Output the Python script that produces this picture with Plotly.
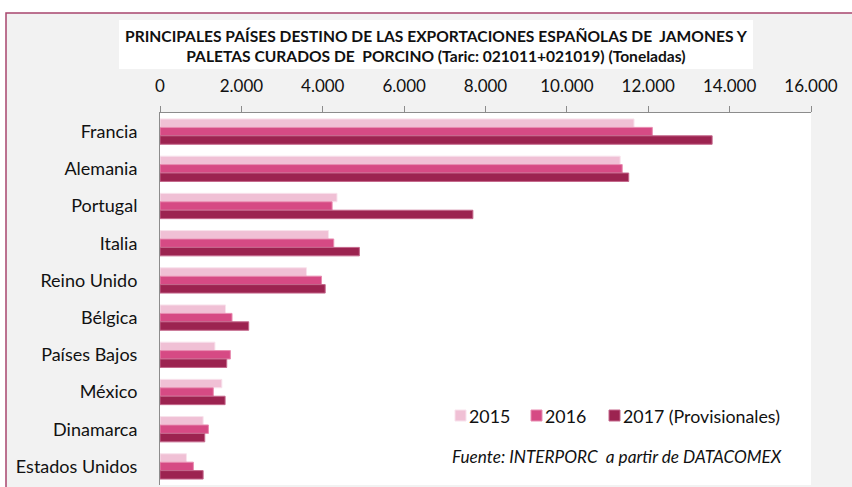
import plotly.graph_objects as go

# Destination countries, top to bottom
paises = ["Francia", "Alemania", "Portugal", "Italia", "Reino Unido",
          "Bélgica", "Países Bajos", "México", "Dinamarca", "Estados Unidos"]

# Exports in tonnes per year
t2015 = [11650, 11310, 4350, 4140, 3600, 1610, 1350, 1520, 1060, 650]
t2016 = [12100, 11360, 4230, 4270, 3970, 1770, 1730, 1310, 1190, 820]
t2017 = [13570, 11520, 7690, 4900, 4060, 2180, 1640, 1600, 1100, 1060]

series_names = ["2015", "2016", "2017 (Provisionales)"]
series_values = [t2015, t2016, t2017]
fill_colors = ["#f0c0d5", "#d64a84", "#9c2350"]
edge_colors = ["#f8e2ec", "#e88bb0", "#c4678b"]

tick_vals = [0, 2000, 4000, 6000, 8000, 10000, 12000, 14000, 16000]
tick_text = ["0", "2.000", "4.000", "6.000", "8.000", "10.000", "12.000", "14.000", "16.000"]

W, H = 852, 487
ML, MR, MT, MB = 160, 41, 113, 2
PW, PH = W - ML - MR, H - MT - MB

FONT = "Lato, Open Sans, sans-serif"


def px_x(px):
    return (px - ML) / PW


def px_y(py):
    return (H - MB - py) / PH


fig = go.Figure()
for name, vals, fc, ec in zip(series_names, series_values, fill_colors, edge_colors):
    fig.add_trace(go.Bar(
        y=paises, x=vals, name=name, orientation="h", showlegend=False,
        marker=dict(color=fc, line=dict(color=ec, width=1)),
    ))

shapes = [
    # outer chart frame
    dict(type="rect", xref="paper", yref="paper", layer="below",
         x0=px_x(6), x1=px_x(870), y0=px_y(500), y1=px_y(13),
         fillcolor="#f2f2f2", line=dict(color="#a8466d", width=1.5)),
    # white plot area
    dict(type="rect", xref="paper", yref="paper", layer="below",
         x0=0, x1=1, y0=0, y1=1, fillcolor="white", line=dict(width=0)),
    # white band behind the title
    dict(type="rect", xref="paper", yref="paper", layer="below",
         x0=px_x(119), x1=px_x(753), y0=px_y(69), y1=px_y(20),
         fillcolor="white", line=dict(width=0)),
]

annotations = [
    dict(xref="paper", yref="paper", x=px_x(436), y=px_y(45.5),
         xanchor="center", yanchor="middle", showarrow=False, align="center",
         text="<b>PRINCIPALES PAÍSES DESTINO DE LAS EXPORTACIONES ESPAÑOLAS DE  JAMONES Y"
              "<br>PALETAS CURADOS DE  PORCINO (Taric: 021011+021019) (Toneladas)</b>",
         font=dict(family=FONT, size=15.6, color="#111")),
    dict(xref="paper", yref="paper", x=px_x(617), y=px_y(456),
         xanchor="center", yanchor="middle", showarrow=False,
         text="<i>Fuente: INTERPORC  a partir de DATACOMEX</i>",
         font=dict(family=FONT, size=17.2, color="#111")),
]

# Legend: colour swatch followed by the series name
legend_left = [455, 531, 609]
for name, fc, ec, lx in zip(series_names, fill_colors, edge_colors, legend_left):
    shapes.append(dict(type="rect", xref="paper", yref="paper",
                       x0=px_x(lx), x1=px_x(lx + 11), y0=px_y(421), y1=px_y(410),
                       fillcolor=fc, line=dict(color=ec, width=1)))
    annotations.append(dict(xref="paper", yref="paper", x=px_x(lx + 12), y=px_y(415.5),
                            xanchor="left", yanchor="middle", showarrow=False,
                            text=name, font=dict(family=FONT, size=17.8, color="#111")))

fig.update_layout(
    width=W, height=H,
    margin=dict(l=ML, r=MR, t=MT, b=MB),
    paper_bgcolor="white",
    plot_bgcolor="rgba(0,0,0,0)",
    barmode="group",
    bargap=0.32,
    bargroupgap=0,
    shapes=shapes,
    annotations=annotations,
    showlegend=False,
    font=dict(family=FONT, size=15, color="#111"),
    xaxis=dict(side="top", range=[0, 16000], tickvals=tick_vals, ticktext=tick_text,
               showgrid=False, zeroline=False, showline=True, linecolor="#8c8c8c",
               linewidth=1, ticks="outside", ticklen=6, tickcolor="#8c8c8c",
               ticklabelstandoff=7, tickfont=dict(size=17)),
    yaxis=dict(autorange="reversed", showgrid=False, showline=True,
               linecolor="#8c8c8c", linewidth=1, ticks="", ticklabelstandoff=18,
               tickfont=dict(size=18)),
)

fig.write_html("out.html")
